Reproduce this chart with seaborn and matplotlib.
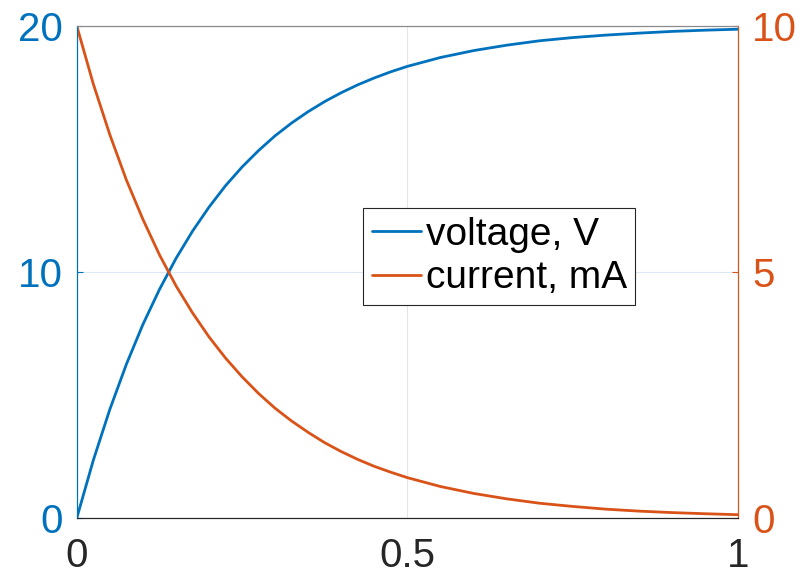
import matplotlib
matplotlib.use("Agg")
import matplotlib.pyplot as plt
import seaborn as sns
import pandas as pd

# Data
t = [0.0, 0.025, 0.05, 0.075, 0.1, 0.125, 0.15, 0.175, 0.2, 0.225, 0.25,
     0.275, 0.3, 0.325, 0.35, 0.375, 0.4, 0.425, 0.45, 0.475, 0.5,
     0.55, 0.6, 0.65, 0.7, 0.75, 0.8, 0.85, 0.9, 0.95, 1.0]
voltage = [0.0, 2.35, 4.42, 6.25, 7.87, 9.29, 10.55, 11.66, 12.64, 13.51, 14.27,
           14.94, 15.54, 16.06, 16.52, 16.93, 17.29, 17.61, 17.89, 18.14, 18.36,
           18.72, 19.00, 19.22, 19.40, 19.53, 19.63, 19.71, 19.78, 19.83, 19.87]
current = [10.0, 8.82, 7.79, 6.87, 6.07, 5.35, 4.72, 4.17, 3.68, 3.25, 2.87,
           2.53, 2.23, 1.97, 1.74, 1.53, 1.35, 1.19, 1.05, 0.93, 0.82,
           0.64, 0.50, 0.39, 0.30, 0.235, 0.18, 0.14, 0.11, 0.087, 0.067]
labels = ["voltage, V", "current, mA"]
x_ticks = [0, 0.5, 1]
x_ticklabels = ["0", "0.5", "1"]
left_ticks = [0, 10, 20]
right_ticks = [0, 5, 10]

BLUE = "#0072BD"
ORANGE = "#D95319"

sns.set_style("white")
plt.rcParams["font.family"] = ["Liberation Sans", "DejaVu Sans"]

df = pd.DataFrame({"t": t, "voltage": voltage, "current": current})

fig = plt.figure(figsize=(8, 5.78), dpi=100)
ax = fig.add_axes([0.096, 0.1038, 0.8265, 0.8512])
ax2 = ax.twinx()

sns.lineplot(data=df, x="t", y="voltage", ax=ax, color=BLUE, linewidth=2.0, label=labels[0], legend=False)
sns.lineplot(data=df, x="t", y="current", ax=ax2, color=ORANGE, linewidth=2.0, label=labels[1], legend=False)

ax.set_xlim(0, 1)
ax.set_ylim(0, 20)
ax2.set_ylim(0, 10)
ax.set_xlabel("")
ax.set_ylabel("")
ax2.set_ylabel("")

ax.set_xticks(x_ticks)
ax.set_xticklabels(x_ticklabels)
ax.set_yticks(left_ticks)
ax.set_yticklabels([str(v) for v in left_ticks])
ax2.set_yticks(right_ticks)
ax2.set_yticklabels([str(v) for v in right_ticks])

fs = 29
lfs = 28
ax.tick_params(axis="x", direction="in", length=4, width=0.8, colors="#262626", labelsize=fs, pad=14, top=False)
ax.tick_params(axis="y", direction="in", length=4, width=0.8, colors=BLUE, labelsize=fs, pad=10)
ax2.tick_params(axis="y", direction="in", length=4, width=0.8, colors=ORANGE, labelsize=fs, pad=10)

ax.xaxis.grid(True, color="#e5e5e5", linewidth=0.8)
ax.yaxis.grid(True, color="#dbe9f5", linewidth=0.8)
ax.set_axisbelow(True)

for a in (ax, ax2):
    for s in a.spines.values():
        s.set_linewidth(0.8)
    a.spines["top"].set_color("#8a8a8a")
    a.spines["bottom"].set_color("#262626")
    a.spines["left"].set_color(BLUE)
    a.spines["right"].set_color(ORANGE)

h1, l1 = ax.get_legend_handles_labels()
h2, l2 = ax2.get_legend_handles_labels()
leg = ax2.legend(h1 + h2, l1 + l2, loc="upper left", bbox_to_anchor=(0.433, 0.63),
                 borderaxespad=0, fontsize=lfs, frameon=True, fancybox=False,
                 edgecolor="#262626", framealpha=1, handlelength=1.26,
                 handletextpad=0.13, borderpad=0.22, labelspacing=0.2,
                 labelcolor="black")
leg.get_frame().set_linewidth(0.8)

fig.savefig("out.png", dpi=100)
